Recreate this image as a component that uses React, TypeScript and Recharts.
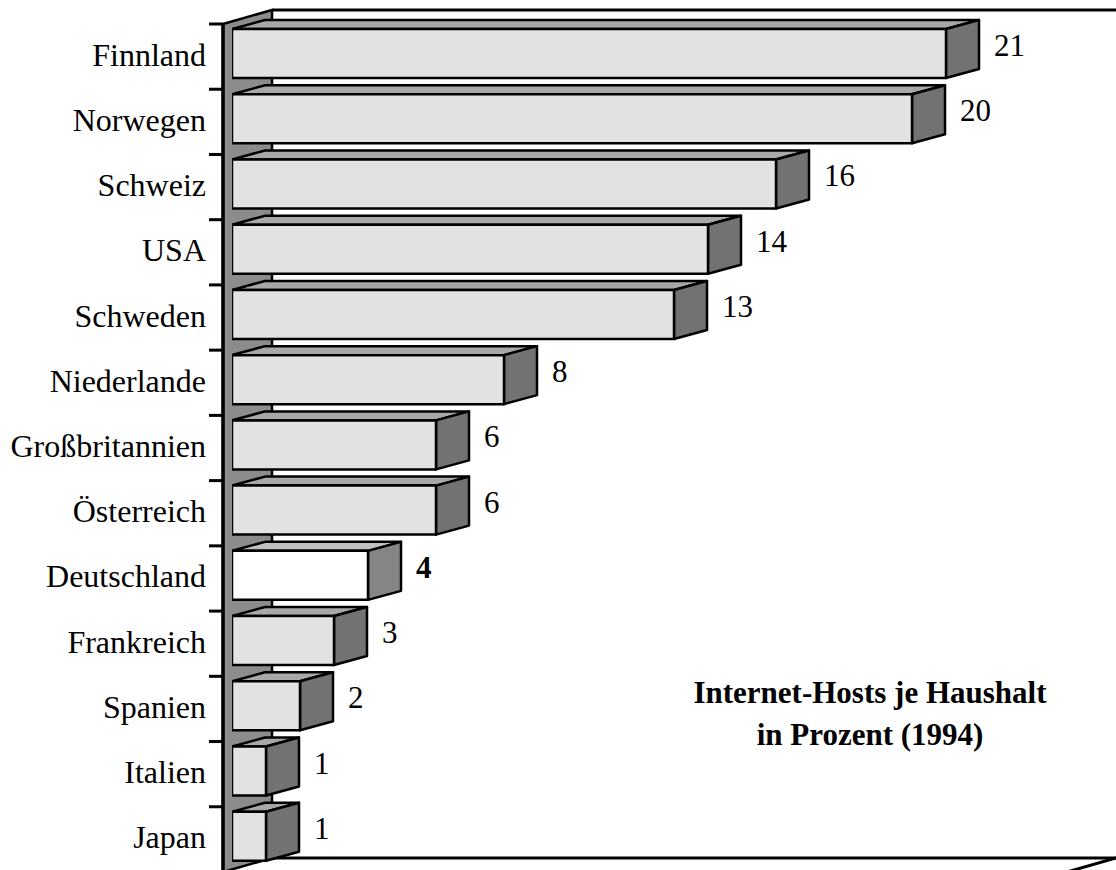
import React from "react";
import { Bar, BarChart, Customized, LabelList, XAxis, YAxis } from "recharts";

// Internet-Hosts je Haushalt in Prozent (1994)
const countries = [
  "Finnland",
  "Norwegen",
  "Schweiz",
  "USA",
  "Schweden",
  "Niederlande",
  "Großbritannien",
  "Österreich",
  "Deutschland",
  "Frankreich",
  "Spanien",
  "Italien",
  "Japan",
];
const hostShares = [21, 20, 16, 14, 13, 8, 6, 6, 4, 3, 2, 1, 1];
const highlightCountry = "Deutschland";
const valueDomain = [0, 25];
const titleLines = ["Internet-Hosts je Haushalt", "in Prozent (1994)"];

const data = countries.map((name, i) => ({ name, value: hostShares[i] }));

// layout
const WIDTH = 1116;
const HEIGHT = 880;
const MARGIN = { top: 24, right: 34, bottom: 8, left: 0 };
const AXIS_W = 232;
const PLOT_LEFT = MARGIN.left + AXIS_W;
const PLOT_TOP = MARGIN.top;
const PLOT_BOTTOM = HEIGHT - MARGIN.bottom;
const BAND = (PLOT_BOTTOM - PLOT_TOP) / countries.length;

const FONT = '"Liberation Serif", "Times New Roman", serif';
const BAR_DX = 33;
const BAR_DY = 9;
const BAR_SHIFT = -3;
const WALL_X = PLOT_LEFT - 9;
const WALL_DX = 49;
const WALL_DY = 14;

const colors = {
  front: "#e2e2e2",
  top: "#a8a8a8",
  side: "#727272",
  frontHi: "#ffffff",
  topHi: "#c0c0c0",
  sideHi: "#858585",
  wall: "#8c8c8c",
};

function Backdrop() {
  const bx = WALL_X + WALL_DX;
  const backTop = PLOT_TOP - WALL_DY;
  const backBottom = PLOT_BOTTOM - WALL_DY;
  return (
    <g>
      <polygon
        points={`${WALL_X},${PLOT_TOP} ${bx},${backTop} ${bx},${backBottom} ${WALL_X},${PLOT_BOTTOM}`}
        fill={colors.wall}
        stroke="#000"
        strokeWidth={2.5}
        strokeLinejoin="round"
      />
      <line x1={WALL_X} y1={PLOT_TOP} x2={WALL_X} y2={PLOT_BOTTOM + 10} stroke="#000" strokeWidth={3.5} />
      <line x1={bx} y1={backTop} x2={WIDTH + 10} y2={backTop} stroke="#000" strokeWidth={3} />
      <line x1={bx} y1={backBottom} x2={WIDTH} y2={backBottom} stroke="#000" strokeWidth={3} />
      <line x1={WIDTH} y1={backBottom} x2={WIDTH - WALL_DX} y2={PLOT_BOTTOM} stroke="#000" strokeWidth={3} />
      <text x={870} y={703} textAnchor="middle" fontFamily={FONT} fontSize={31} fontWeight="bold">
        {titleLines[0]}
      </text>
      <text x={870} y={745} textAnchor="middle" fontFamily={FONT} fontSize={31} fontWeight="bold">
        {titleLines[1]}
      </text>
    </g>
  );
}

function Box3D(props: any) {
  const { x, y, width, height, payload } = props;
  const hi = payload && payload.name === highlightCountry;
  const x0 = x;
  const x1 = x + width;
  const y0 = y + BAR_SHIFT;
  const y1 = y0 + height;
  const sw = 2.5;
  return (
    <g strokeLinejoin="round">
      <polygon
        points={`${x0},${y0} ${x0 + BAR_DX},${y0 - BAR_DY} ${x1 + BAR_DX},${y0 - BAR_DY} ${x1},${y0}`}
        fill={hi ? colors.topHi : colors.top}
        stroke="#000"
        strokeWidth={sw}
      />
      <polygon
        points={`${x1},${y0} ${x1 + BAR_DX},${y0 - BAR_DY} ${x1 + BAR_DX},${y1 - BAR_DY} ${x1},${y1}`}
        fill={hi ? colors.sideHi : colors.side}
        stroke="#000"
        strokeWidth={sw}
      />
      <rect
        x={x0}
        y={y0}
        width={width}
        height={height}
        fill={hi ? colors.frontHi : colors.front}
        stroke="#000"
        strokeWidth={sw}
      />
    </g>
  );
}

function ValueLabel(props: any) {
  const { x, y, width, value, index } = props;
  const hi = countries[index] === highlightCountry;
  return (
    <text
      x={x + width + BAR_DX + 15}
      y={y + BAR_SHIFT + 27}
      fontFamily={FONT}
      fontSize={31}
      fontWeight={hi ? "bold" : "normal"}
      fill="#000"
    >
      {value}
    </text>
  );
}

function CountryTick(props: any) {
  const { y, payload } = props;
  const bandTop = y - BAND / 2;
  return (
    <g>
      <line x1={WALL_X - 14} x2={WALL_X} y1={bandTop} y2={bandTop} stroke="#000" strokeWidth={3} />
      <text x={206} y={y + 9} textAnchor="end" fontFamily={FONT} fontSize={32} fill="#000">
        {payload.value}
      </text>
    </g>
  );
}

export default function App() {
  return (
    <div
      style={{
        position: "absolute",
        left: 0,
        top: 0,
        width: WIDTH,
        height: 870,
        overflow: "hidden",
        background: "#fff",
      }}
    >
      <BarChart width={WIDTH} height={HEIGHT} data={data} layout="vertical" margin={MARGIN} barSize={49}>
        <Customized component={<Backdrop />} />
        <XAxis type="number" domain={valueDomain} hide allowDataOverflow />
        <YAxis
          type="category"
          dataKey="name"
          width={AXIS_W}
          axisLine={false}
          tickLine={false}
          tick={<CountryTick />}
          interval={0}
        />
        <Bar dataKey="value" shape={<Box3D />} isAnimationActive={false}>
          <LabelList dataKey="value" content={<ValueLabel />} />
        </Bar>
      </BarChart>
    </div>
  );
}
